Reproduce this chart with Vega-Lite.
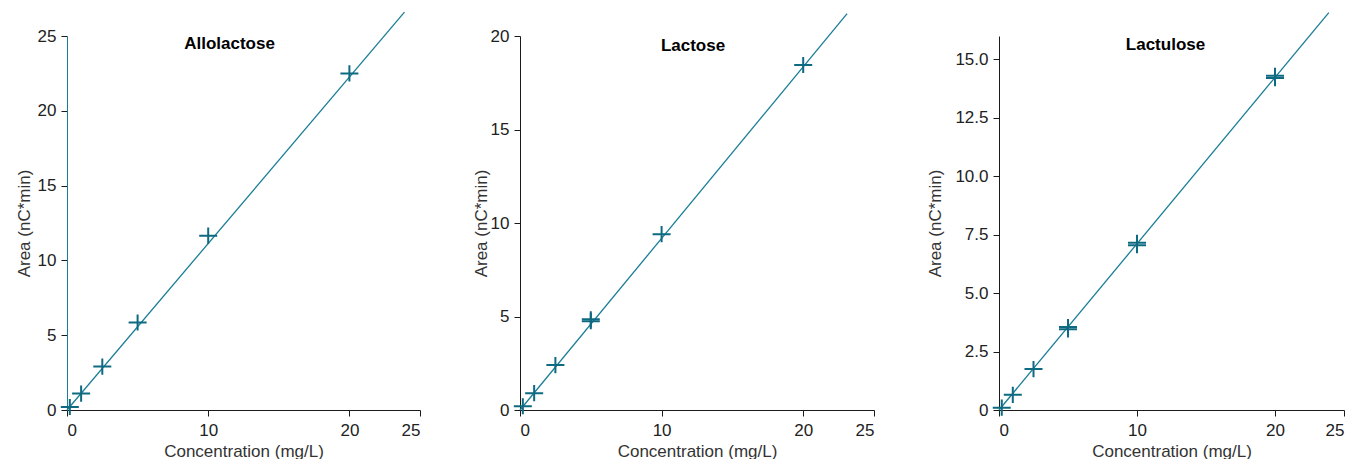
{
  "$schema": "https://vega.github.io/schema/vega-lite/v6.json",
  "background": "white",
  "padding": {"left": 15, "top": 9, "right": 5, "bottom": 0},
  "config": {
    "view": {"stroke": null},
    "font": "Liberation Sans",
    "axis": {
      "grid": false,
      "domainColor": "#1a1a1a",
      "tickColor": "#1a1a1a",
      "tickSize": 6,
      "labelFont": "Liberation Sans",
      "labelFontSize": 17,
      "labelColor": "#222222",
      "labelPadding": 5,
      "titleFont": "Liberation Sans",
      "titleFontSize": 17,
      "titleFontWeight": "normal",
      "titleColor": "#333333",
      "titlePadding": 4
    },
    "axisX": {"labelPadding": 6, "titlePadding": 5},
    "title": {"font": "Liberation Sans", "fontSize": 17, "fontWeight": "bold", "color": "#000000", "anchor": "middle", "frame": "group", "offset": -44}
  },
  "datasets": {
    "pts": [
      {"panel": "Allolactose", "conc": 0.2, "area": 0.2},
      {"panel": "Allolactose", "conc": 1, "area": 1.1},
      {"panel": "Allolactose", "conc": 2.5, "area": 2.9},
      {"panel": "Allolactose", "conc": 5, "area": 5.85},
      {"panel": "Allolactose", "conc": 10, "area": 11.65},
      {"panel": "Allolactose", "conc": 20, "area": 22.5},
      {"panel": "Lactose", "conc": 0.2, "area": 0.2},
      {"panel": "Lactose", "conc": 1, "area": 0.9},
      {"panel": "Lactose", "conc": 2.5, "area": 2.4},
      {"panel": "Lactose", "conc": 5, "area": 4.75},
      {"panel": "Lactose", "conc": 5, "area": 4.85},
      {"panel": "Lactose", "conc": 10, "area": 9.4},
      {"panel": "Lactose", "conc": 20, "area": 18.45},
      {"panel": "Lactulose", "conc": 0.2, "area": 0.1},
      {"panel": "Lactulose", "conc": 1, "area": 0.65},
      {"panel": "Lactulose", "conc": 2.5, "area": 1.75},
      {"panel": "Lactulose", "conc": 5, "area": 3.45},
      {"panel": "Lactulose", "conc": 5, "area": 3.55},
      {"panel": "Lactulose", "conc": 10, "area": 7.05},
      {"panel": "Lactulose", "conc": 10, "area": 7.15},
      {"panel": "Lactulose", "conc": 20, "area": 14.2},
      {"panel": "Lactulose", "conc": 20, "area": 14.3}
    ],
    "fit": [
      {"panel": "Allolactose", "conc": 0, "area": 0.0},
      {"panel": "Allolactose", "conc": 23.9, "area": 26.6},
      {"panel": "Lactose", "conc": 0, "area": 0.0},
      {"panel": "Lactose", "conc": 23.1, "area": 21.2},
      {"panel": "Lactulose", "conc": 0, "area": 0.0},
      {"panel": "Lactulose", "conc": 23.9, "area": 17.0}
    ]
  },
  "spacing": 51,
  "hconcat": [
    {
      "width": 353, "height": 374,
      "title": {"text": "Allolactose", "dx": -14},
      "layer": [
        {
          "data": {"name": "fit"},
          "transform": [{"filter": "datum.panel === 'Allolactose'"}],
          "mark": {"type": "line", "color": "#1a7d96", "strokeWidth": 1.3, "clip": false},
          "encoding": {
            "x": {"field": "conc", "type": "quantitative", "scale": {"domain": [0, 25], "nice": false}, "axis": {"values": [0, 10, 20, 25], "title": "Concentration (mg/L)"}},
            "y": {"field": "area", "type": "quantitative", "scale": {"domain": [0, 25], "nice": false}, "axis": {"values": [0, 5, 10, 15, 20, 25], "title": "Area (nC*min)", "domainColor": "#1a7d96"}}
          }
        },
        {
          "data": {"name": "pts"},
          "transform": [{"filter": "datum.panel === 'Allolactose'"}],
          "mark": {"type": "point", "shape": "M-1,0L1,0M0,-0.9L0,0.9", "size": 324, "stroke": "#0e6a80", "strokeWidth": 2, "filled": false, "opacity": 1},
          "encoding": {
            "x": {"field": "conc", "type": "quantitative"},
            "y": {"field": "area", "type": "quantitative"}
          }
        }
      ]
    },
    {
      "width": 354, "height": 374,
      "title": {"text": "Lactose", "dx": -4},
      "layer": [
        {
          "data": {"name": "fit"},
          "transform": [{"filter": "datum.panel === 'Lactose'"}],
          "mark": {"type": "line", "color": "#1a7d96", "strokeWidth": 1.3, "clip": false},
          "encoding": {
            "x": {"field": "conc", "type": "quantitative", "scale": {"domain": [0, 25], "nice": false}, "axis": {"values": [0, 10, 20, 25], "title": "Concentration (mg/L)"}},
            "y": {"field": "area", "type": "quantitative", "scale": {"domain": [0, 20], "nice": false}, "axis": {"values": [0, 5, 10, 15, 20], "title": "Area (nC*min)", "titlePadding": 0}}
          }
        },
        {
          "data": {"name": "pts"},
          "transform": [{"filter": "datum.panel === 'Lactose'"}],
          "mark": {"type": "point", "shape": "M-1,0L1,0M0,-0.9L0,0.9", "size": 324, "stroke": "#0e6a80", "strokeWidth": 2, "filled": false, "opacity": 1},
          "encoding": {
            "x": {"field": "conc", "type": "quantitative"},
            "y": {"field": "area", "type": "quantitative"}
          }
        }
      ]
    },
    {
      "width": 345, "height": 374,
      "title": {"text": "Lactulose", "dx": -6},
      "layer": [
        {
          "data": {"name": "fit"},
          "transform": [{"filter": "datum.panel === 'Lactulose'"}],
          "mark": {"type": "line", "color": "#1a7d96", "strokeWidth": 1.3, "clip": false},
          "encoding": {
            "x": {"field": "conc", "type": "quantitative", "scale": {"domain": [0, 25], "nice": false}, "axis": {"values": [0, 10, 20, 25], "title": "Concentration (mg/L)"}},
            "y": {"field": "area", "type": "quantitative", "scale": {"domain": [0, 16], "nice": false}, "axis": {"values": [0, 2.5, 5, 7.5, 10, 12.5, 15], "format": ".1f", "labelExpr": "datum.value === 0 ? '0' : datum.label", "title": "Area (nC*min)", "titlePadding": 10}}
          }
        },
        {
          "data": {"name": "pts"},
          "transform": [{"filter": "datum.panel === 'Lactulose'"}],
          "mark": {"type": "point", "shape": "M-1,0L1,0M0,-0.9L0,0.9", "size": 324, "stroke": "#0e6a80", "strokeWidth": 2, "filled": false, "opacity": 1},
          "encoding": {
            "x": {"field": "conc", "type": "quantitative"},
            "y": {"field": "area", "type": "quantitative"}
          }
        }
      ]
    }
  ]
}
